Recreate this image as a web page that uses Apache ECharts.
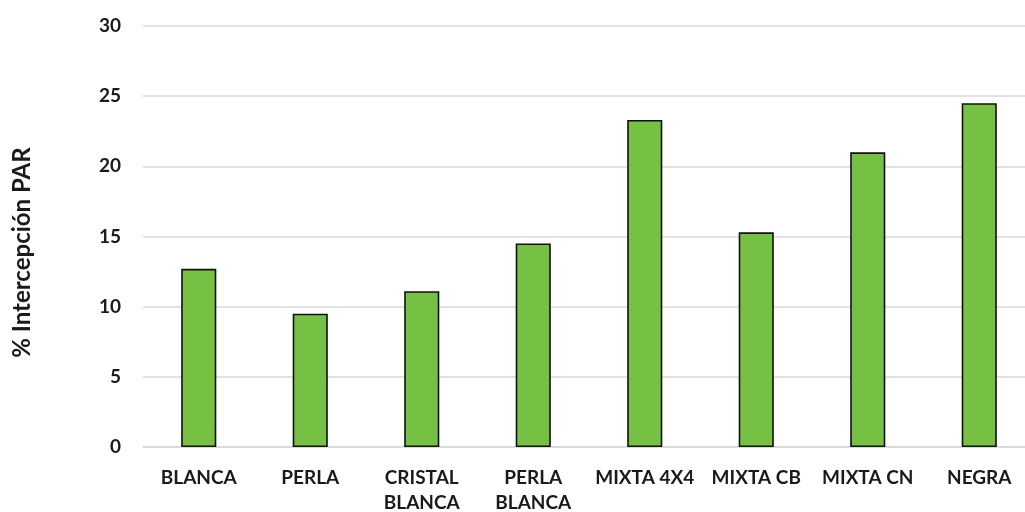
<!DOCTYPE html>
<html>
<head>
<meta charset="utf-8">
<script src="https://cdn.jsdelivr.net/npm/echarts@6/dist/echarts.min.js"></script>
<style>
  html, body { margin: 0; padding: 0; background: #ffffff; }
  #chart { width: 1025px; height: 512px; }
</style>
</head>
<body>
<div id="chart"></div>
<script>
// Light-interception treatments (mesh colours) and their % PAR interception
const categories = ['BLANCA', 'PERLA', 'CRISTAL\nBLANCA', 'PERLA\nBLANCA', 'MIXTA 4X4', 'MIXTA CB', 'MIXTA CN', 'NEGRA'];
const interception = [12.7, 9.5, 11.1, 14.5, 23.3, 15.3, 21.0, 24.5];
const yTicks = { min: 0, max: 30, interval: 5 };
const yTitle = '% Intercepción PAR';

const font = 'Lato, "Open Sans", sans-serif';
const chart = echarts.init(document.getElementById('chart'), null, { renderer: 'canvas' });

chart.setOption({
  animation: false,
  backgroundColor: '#ffffff',
  grid: { left: 143, right: -10, top: 26, bottom: 65, containLabel: false, outerBoundsMode: 'none' },
  xAxis: {
    type: 'category',
    data: categories,
    axisTick: { show: false },
    axisLine: { show: true, lineStyle: { color: '#d9d9d9', width: 1.5 } },
    axisLabel: {
      interval: 0,
      margin: 18,
      color: '#1a1a1a',
      fontFamily: font,
      fontWeight: 'bold',
      fontSize: 19,
      lineHeight: 25
    }
  },
  yAxis: {
    type: 'value',
    min: yTicks.min,
    max: yTicks.max,
    interval: yTicks.interval,
    name: yTitle,
    nameLocation: 'middle',
    nameRotate: 90,
    nameGap: 109,
    nameTextStyle: {
      color: '#1a1a1a',
      fontFamily: font,
      fontWeight: 'bold',
      fontSize: 24,
      padding: [0, 32, 0, 0]
    },
    axisLine: { show: false },
    axisTick: { show: false },
    axisLabel: {
      margin: 22,
      color: '#1a1a1a',
      fontFamily: font,
      fontWeight: 'bold',
      fontSize: 19
    },
    splitLine: { lineStyle: { color: '#d9d9d9', width: 1.5 } }
  },
  series: [{
    type: 'bar',
    data: interception,
    barWidth: '31.5%',
    itemStyle: {
      color: '#76c044',
      borderColor: '#111111',
      borderWidth: 1.6
    }
  }]
});
</script>
</body>
</html>
